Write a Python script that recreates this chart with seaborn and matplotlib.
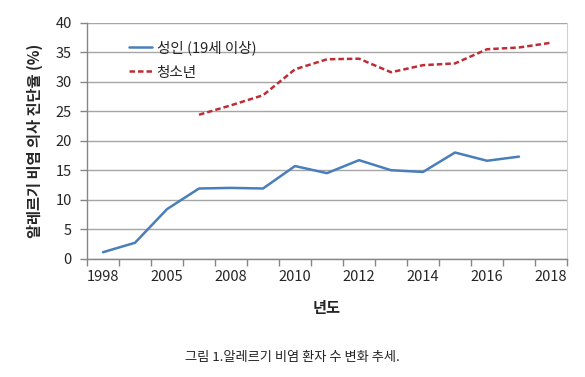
import numpy as np
import pandas as pd
import matplotlib
matplotlib.use('Agg')
import matplotlib.pyplot as plt
import seaborn as sns

# categories on the x axis (labels shown every other one)
years = ['1998', '2001', '2005', '2007', '2008', '2009', '2010', '2011',
         '2012', '2013', '2014', '2015', '2016', '2017', '2018']
adult_years = years[:14]
adult = [1.1, 2.7, 8.4, 11.9, 12.0, 11.9, 15.7, 14.5, 16.7, 15.0, 14.7, 18.0, 16.6, 17.3]
youth_years = years[3:]
youth = [24.4, 26.0, 27.7, 32.1, 33.8, 33.9, 31.6, 32.8, 33.1, 35.5, 35.8, 36.6]
tick_labels = ['1998', '2005', '2008', '2010', '2012', '2014', '2016', '2018']

adult_name = '성인 (19세 이상)'
youth_name = '청소년'

df = pd.concat([
    pd.DataFrame({'year': adult_years, 'rate': adult, 'group': adult_name}),
    pd.DataFrame({'year': youth_years, 'rate': youth, 'group': youth_name}),
])
df['pos'] = df['year'].map({y: i for i, y in enumerate(years)})

sns.set_style('white')
plt.rcParams['font.family'] = ['Noto Sans CJK KR', 'DejaVu Sans']

fig = plt.figure(figsize=(5.85, 3.77), dpi=100)
ax = fig.add_axes([87 / 585, 1 - 258.7 / 377, 480 / 585, 236 / 377])

sns.lineplot(data=df, x='pos', y='rate', hue='group', style='group',
             palette={adult_name: '#4A7EBB', youth_name: '#BE2D36'},
             dashes={adult_name: '', youth_name: (2.2, 1.2)},
             linewidth=1.8, ax=ax)

ax.set_xlim(-0.5, len(years) - 0.5)
ax.set_ylim(0, 40)
ax.set_yticks(range(0, 41, 5))
ax.yaxis.grid(True, color='#A6A6A6', linewidth=1)
ax.set_axisbelow(True)

# tick marks sit between categories, labels at category centres
ax.set_xticks(np.arange(-0.5, len(years), 1.0), minor=False)
ax.set_xticklabels([])
ax.set_xticks([years.index(t) for t in tick_labels], minor=True)
ax.set_xticklabels(tick_labels, minor=True)
ax.tick_params(axis='x', which='major', length=5, color='#868686', width=1, direction='out')
ax.tick_params(axis='x', which='minor', length=0, labelsize=10.5, pad=8)
ax.tick_params(axis='y', length=5, color='#868686', width=1, labelsize=10.5, pad=6)
ax.tick_params(axis='both', bottom=True, left=True)

for s in ['left', 'bottom']:
    ax.spines[s].set_color('#868686')
    ax.spines[s].set_linewidth(1)
ax.spines['top'].set_visible(False)
ax.spines['right'].set_color('#D0D0D0')

ax.set_xlabel('년도', fontsize=11, fontweight='bold', labelpad=12)
ax.set_ylabel('알레르기 비염 의사 진단율 (%)', fontsize=11, fontweight='bold', labelpad=9)

leg = ax.legend(loc='upper left', bbox_to_anchor=(0.06, 0.98), frameon=False,
                fontsize=10.5, handlelength=1.6, handletextpad=0.3, labelspacing=0.7)

fig.text(0.5, 1 - 358 / 377, '그림 1.알레르기 비염 환자 수 변화 추세.', ha='center', va='center',
         fontsize=9.5, color='#222222', fontweight='medium')

fig.savefig('out.png', dpi=100)
